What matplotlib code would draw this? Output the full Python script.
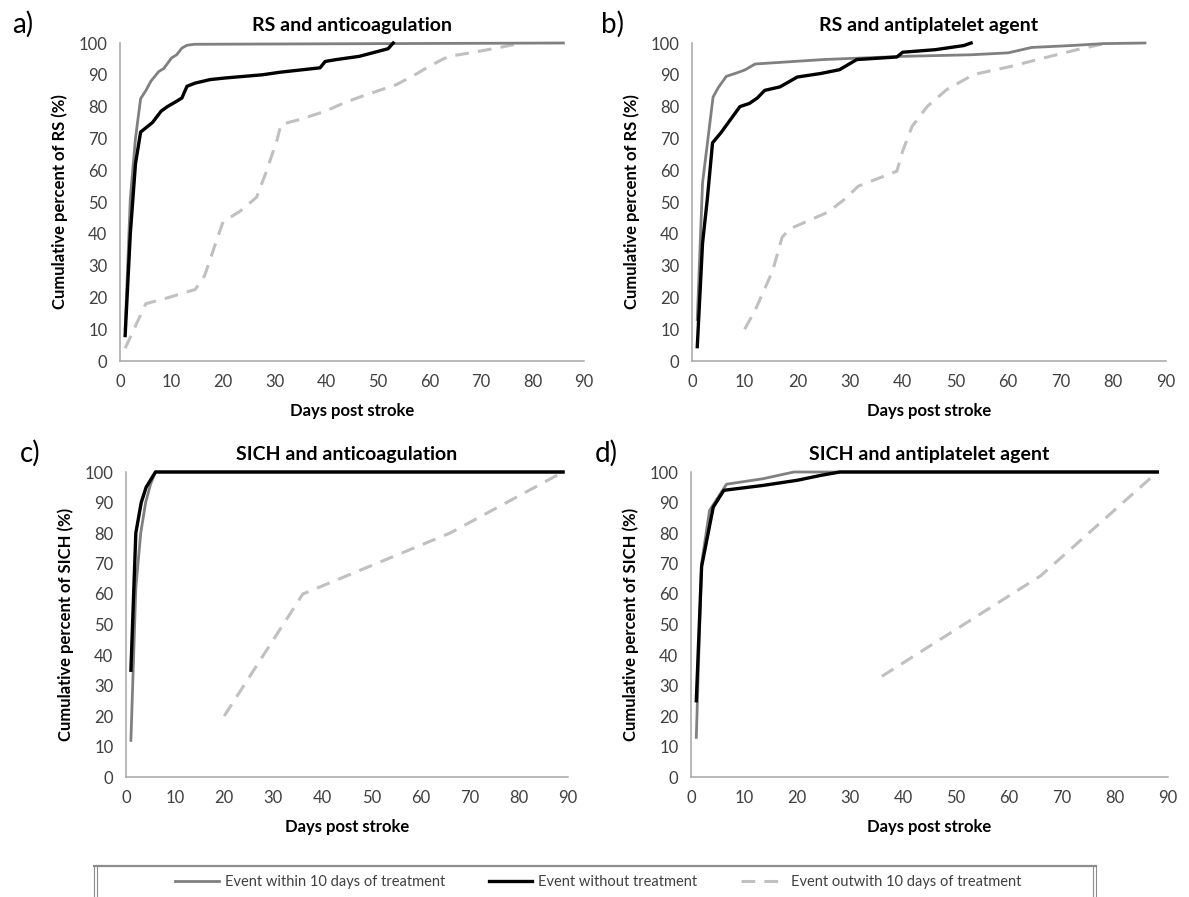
import numpy as np
import matplotlib
matplotlib.use("Agg")
import matplotlib.pyplot as plt
from matplotlib.lines import Line2D

plt.rcParams["font.family"] = ["Lato", "DejaVu Sans"]

# days post stroke / cumulative percent, one pair per curve
# a) RS and anticoagulation
a_within_x = [1, 2, 3, 4, 5, 6, 7.5, 8.5, 10, 11, 12, 13, 14.5, 86]
a_within_y = [10, 51, 70, 82.5, 85, 88, 91, 92, 95.3, 96.3, 98.4, 99.3, 99.6, 100]
a_none_x = [1, 2, 3, 4, 5, 6.3, 7, 8, 9.2, 11, 12, 13, 14.6, 17.5, 20.4, 27.6, 31,
            38.8, 39.8, 42, 46.4, 52, 53]
a_none_y = [8, 40, 62, 72, 73.3, 75, 76.5, 78.6, 80, 81.7, 82.7, 86.4, 87.4, 88.5, 89,
            90, 90.8, 92.2, 94.2, 94.8, 95.8, 98.2, 100]
a_out_x = [1, 5, 9.5, 14.6, 16.4, 17.5, 19.3, 20, 23.2, 26.5, 28.3, 30.5, 31.2, 34.8,
           39.9, 43.5, 47, 53.6, 57.2, 60, 63.7, 68, 73, 78]
a_out_y = [4, 18, 20, 22.5, 26.8, 32, 40.6, 43.8, 47, 51.5, 59.2, 69.7, 74.4, 75.9,
           78.6, 81.2, 83.3, 86.9, 90, 92.7, 95.8, 96.9, 98.4, 100]

# b) RS and antiplatelet agent
b_within_x = [1, 2, 4, 5, 6.5, 8.5, 10, 12, 25, 40, 53, 60, 64.5, 72, 78, 86]
b_within_y = [13, 56, 83, 86, 89.5, 90.6, 91.5, 93.4, 94.8, 95.8, 96.3, 96.9, 98.6,
              99.2, 99.8, 100]
b_none_x = [1, 2, 2.9, 3.9, 5.5, 7.3, 9.1, 10.9, 12.4, 13.8, 16.7, 20, 24.4, 28, 31.3,
            38.9, 40, 46.2, 51.6, 53]
b_none_y = [4.5, 37, 50.8, 68.6, 71.8, 75.9, 80, 81, 82.7, 85.1, 86.2, 89.3, 90.4,
            91.6, 94.8, 95.6, 97.1, 97.9, 99.2, 100]
b_out_x = [10, 12, 15.3, 17.1, 18.5, 25.8, 28.7, 31.6, 38.9, 40, 41.8, 44.7, 48.4,
           53.5, 60.7, 68, 73.1, 77.5, 79]
b_out_y = [10, 16, 28.3, 38.9, 41.5, 46.8, 50.5, 55, 59.7, 66, 73.8, 80.1, 85.4, 90.1,
           92.7, 95.8, 97.9, 99.5, 100]

# c) SICH and anticoagulation
c_within_x = [1, 2, 3, 4, 5, 6, 89]
c_within_y = [12, 62, 80, 90, 96, 100, 100]
c_none_x = [1, 2, 3.1, 4.1, 6, 89]
c_none_y = [35, 80, 90, 95, 100, 100]
c_out_x = [20, 36, 66, 89]
c_out_y = [20, 60, 80, 100]

# d) SICH and antiplatelet agent
d_within_x = [1, 2, 3.5, 6.7, 13.6, 19.4, 88]
d_within_y = [13, 70, 87.4, 96, 97.8, 100, 100]
d_none_x = [1, 2, 4.2, 6.2, 13.6, 20.1, 24.5, 28.1, 88]
d_none_y = [25, 69, 88.5, 94, 95.6, 97.3, 98.9, 100, 100]
d_out_x = [36, 66, 88]
d_out_y = [33, 66, 100]

panels = [
    ("a)", "RS and anticoagulation", "Cumulative percent of RS (%)",
     (a_within_x, a_within_y), (a_none_x, a_none_y), (a_out_x, a_out_y)),
    ("b)", "RS and antiplatelet agent", "Cumulative percent of RS (%)",
     (b_within_x, b_within_y), (b_none_x, b_none_y), (b_out_x, b_out_y)),
    ("c)", "SICH and anticoagulation", "Cumulative percent of SICH (%)",
     (c_within_x, c_within_y), (c_none_x, c_none_y), (c_out_x, c_out_y)),
    ("d)", "SICH and antiplatelet agent", "Cumulative percent of SICH (%)",
     (d_within_x, d_within_y), (d_none_x, d_none_y), (d_out_x, d_out_y)),
]
legend_labels = ["Event within 10 days of treatment", "Event without treatment",
                 "Event outwith 10 days of treatment"]

W, H = 1189, 897
fig = plt.figure(figsize=(W / 100, H / 100), dpi=100)

# axes boxes in pixels: left, right, top (y=100), bottom (y=0)
boxes = [(120, 584, 43, 361), (692, 1166, 43, 361),
         (126, 568, 472, 777), (691, 1168, 472, 777)]
# x of the panel letters, in pixels
tag_x = [12, 601, 20, 595]

GRAY, DASH = "#808080", "#c0c0c0"
DASHES = (4.5, 3)
for (tag, title, ylab, within, none, out), (l, r, t, b), tx in zip(panels, boxes, tag_x):
    ax = fig.add_axes([l / W, 1 - b / H, (r - l) / W, (b - t) / H])
    ax.plot(*out, color=DASH, lw=2.2, dashes=DASHES, clip_on=False)
    ax.plot(*within, color=GRAY, lw=2.0, clip_on=False)
    ax.plot(*none, color="black", lw=2.4, clip_on=False)
    ax.set_xlim(0, 90)
    ax.set_ylim(0, 100)
    ax.set_xticks(range(0, 91, 10))
    ax.set_yticks(range(0, 101, 10))
    ax.tick_params(length=0, labelsize=12, labelcolor="#404040", pad=9)
    for s in ("top", "right"):
        ax.spines[s].set_visible(False)
    for s in ("left", "bottom"):
        ax.spines[s].set_color("#a6a6a6")
        ax.spines[s].set_linewidth(1.1)
    ax.set_title(title, fontsize=14, fontweight="bold", pad=9)
    ax.set_ylabel(ylab, fontsize=12, fontweight="bold", labelpad=8)
    ax.set_xlabel("Days post stroke", fontsize=12, fontweight="bold", labelpad=10)
    fig.text(tx / W, 1 - (t - 19) / H, tag, fontsize=20, va="center", ha="left")

handles = [Line2D([], [], color=GRAY, lw=2.0),
           Line2D([], [], color="black", lw=2.4),
           Line2D([], [], color=DASH, lw=2.2, dashes=DASHES)]
fig.legend(handles, legend_labels, loc="center", bbox_to_anchor=(0.503, 1 - 882 / H),
           ncol=3, frameon=False, fontsize=10.5, handlelength=3, handletextpad=0.4,
           columnspacing=3, labelcolor="#404040")

# open-bottom frame around the legend
fc = "#8c8c8c"
fig.add_artist(Line2D([94 / W, 1096 / W], [1 - 866 / H] * 2, color=fc, lw=1.6))
for x in (94, 97, 1093, 1096):
    fig.add_artist(Line2D([x / W] * 2, [1 - 866 / H, 0], color=fc, lw=0.8))

fig.savefig("out.png", dpi=100)
